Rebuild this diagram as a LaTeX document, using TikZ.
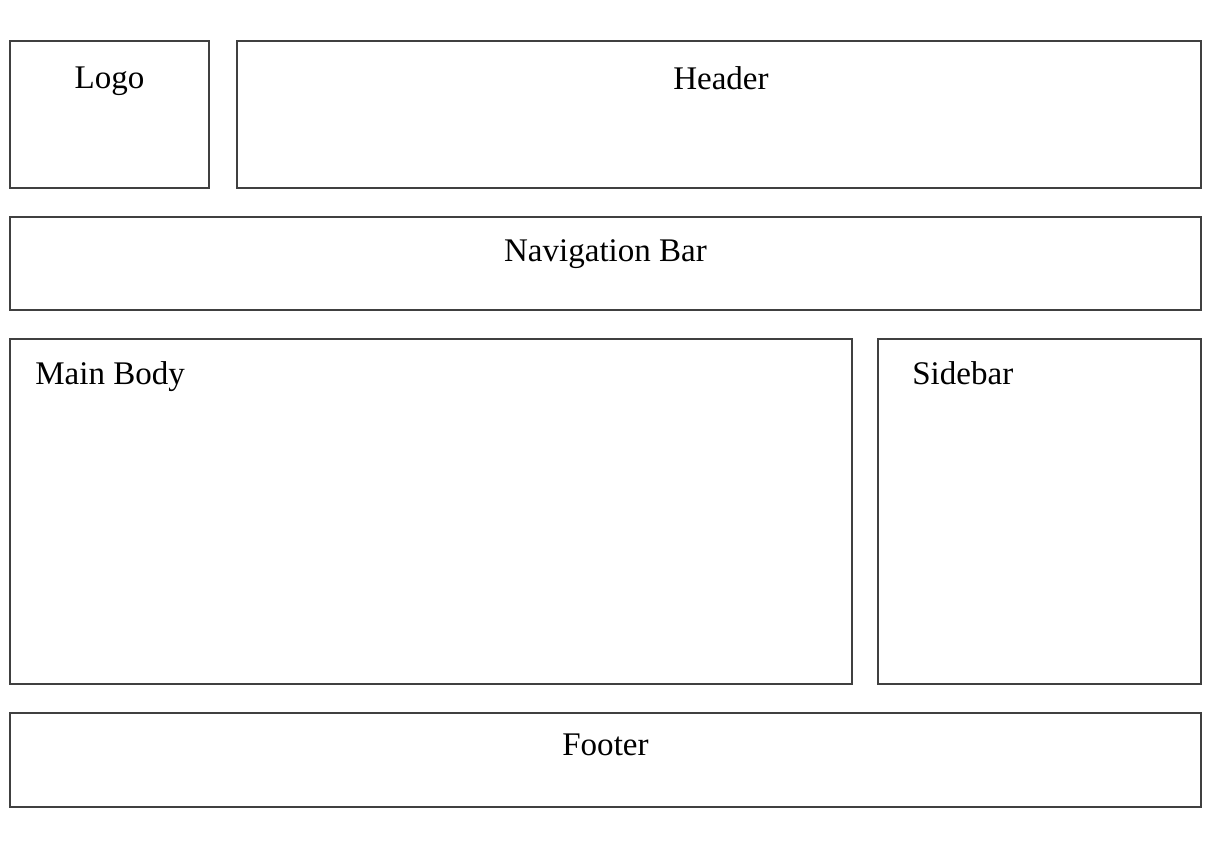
\documentclass[tikz,border=0pt]{standalone}
\usepackage{fontspec}
\setmainfont{Liberation Serif}
\usepackage{tikz}
\usetikzlibrary{positioning}

\begin{document}
\begin{tikzpicture}[
        x=0.02cm, y=-0.02cm,
        area/.style={draw=black!75, line width=1.1pt, anchor=north west,
                     inner sep=0pt},
        lbl/.style={font=\fontsize{18.8}{21}\selectfont, inner sep=0pt}
    ]
        \useasboundingbox (0,0) rectangle (1220,841);

        % page regions
        \node[area, minimum width=199*0.02cm, minimum height=147*0.02cm] (logo) at (9,40) {};
        \node[area, minimum width=964*0.02cm, minimum height=147*0.02cm] (head) at (236,40) {};
        \node[area, minimum width=1191*0.02cm, minimum height=93*0.02cm] (nav) at (9,216) {};
        \node[area, minimum width=842*0.02cm, minimum height=345*0.02cm] (main) at (9,338) {};
        \node[area, minimum width=323*0.02cm, minimum height=345*0.02cm] (side) at (877,338) {};
        \node[area, minimum width=1191*0.02cm, minimum height=94*0.02cm] (foot) at (9,712) {};

        % labels
        \node[lbl, anchor=north] (logotxt) at ([yshift=-0.54cm]logo.north) {Logo};
        \node[lbl, anchor=north] (headtxt) at ([xshift=0.04cm, yshift=-0.52cm]head.north) {Header};
        \node[lbl, anchor=north] (navtxt) at ([yshift=-0.46cm]nav.north) {Navigation Bar};
        \node[lbl, anchor=north west] (maintxt) at ([xshift=0.52cm, yshift=-0.46cm]main.north west) {Main Body};
        \node[lbl, anchor=north west] (sidetxt) at ([xshift=0.70cm, yshift=-0.46cm]side.north west) {Sidebar};
        \node[lbl, anchor=north] (foottxt) at ([yshift=-0.44cm]foot.north) {Footer};
    \end{tikzpicture}
\end{document}
